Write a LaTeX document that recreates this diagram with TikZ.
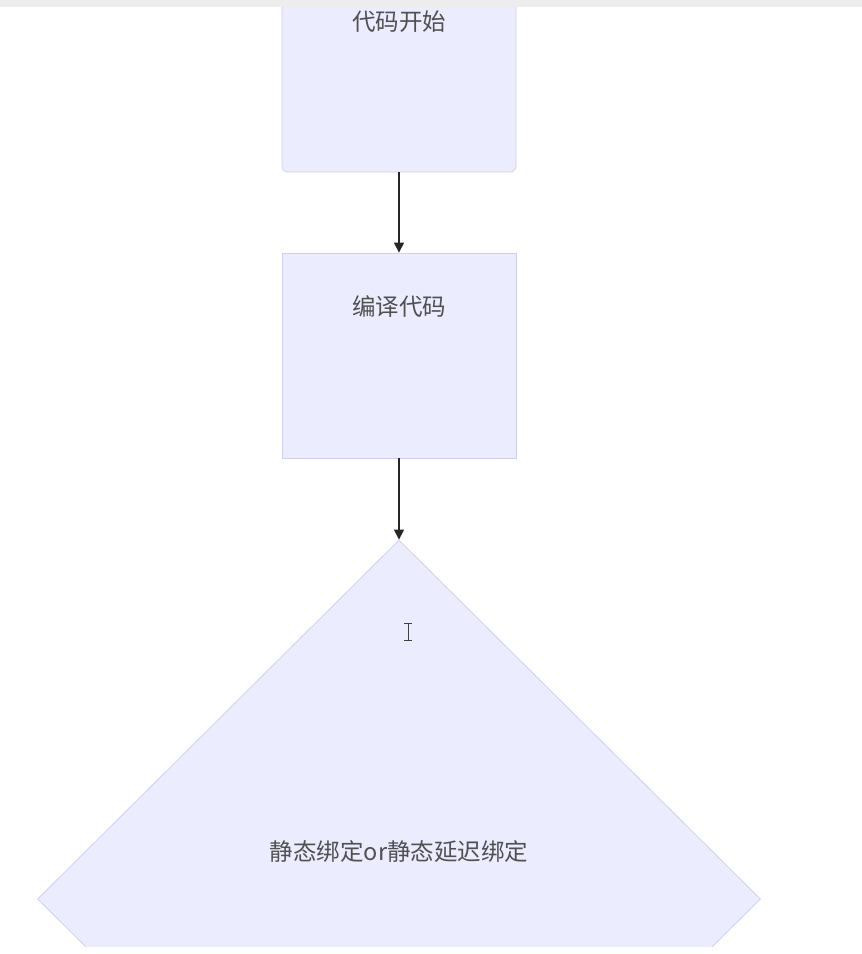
\documentclass[tikz,border=0pt]{standalone}
\usepackage{fontspec}
\newfontfamily\cjk{Noto Sans CJK SC}
\usetikzlibrary{shapes.geometric,arrows.meta}
\definecolor{nodefill}{HTML}{ECECFF}
\definecolor{nodeline}{HTML}{CFCFF2}
\definecolor{txt}{HTML}{505050}
\definecolor{topbar}{HTML}{EEEDED}
\tikzset{
  box/.style={draw=nodeline, line width=0.8pt, fill=nodefill, minimum width=234pt, inner sep=0pt},
  flow/.style={draw=black!85, line width=1.2pt, -{Triangle[length=10pt,width=10pt]}},
  lbl/.style={font=\cjk\fontsize{23.5}{23.5}\selectfont, text=txt, inner sep=0pt},
}
\begin{document}
\begin{tikzpicture}[x=1pt,y=-1pt]
\useasboundingbox (0,0) rectangle (862,954);
\fill[white] (0,0) rectangle (862,954);
\begin{scope}
\clip (0,0) rectangle (862,946);
\node[box, rounded corners=6pt, minimum height=192pt] (start) at (399,76) {};
\node[box, minimum height=205pt] (compile) at (399,355.5) {};
\node[diamond, draw=nodeline, line width=0.8pt, fill=nodefill, minimum width=723pt, minimum height=718pt, inner sep=0pt] (decide) at (399,899) {};
\end{scope}
\fill[topbar] (0,0) rectangle (862,7);
\node[lbl] (t1) at (399,22) {代码开始};
\node[lbl] (t2) at (399,307) {编译代码};
\node[lbl] (t3) at (399,852) {静态绑定or静态延迟绑定};
\draw[flow] (start.south) -- (compile.north);
\draw[flow] (compile.south) -- (decide.north);
% I-beam cursor
\draw[black!75, line width=1pt] (408,623) -- (408,640) (404,623) -- (412,623) (404,640) -- (412,640);
\end{tikzpicture}
\end{document}
